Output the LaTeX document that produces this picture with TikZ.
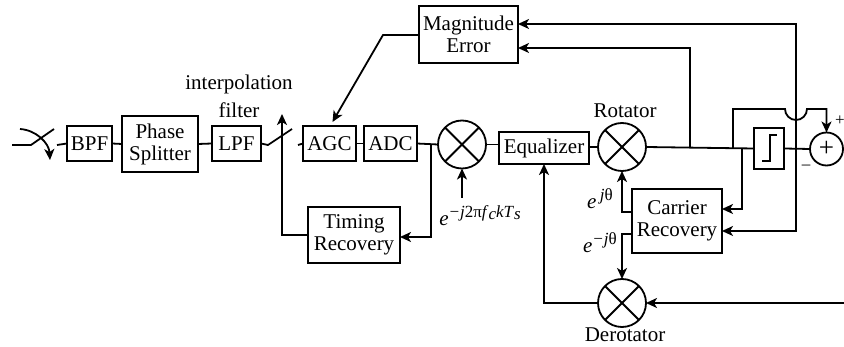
\documentclass[tikz,border=0pt]{standalone}
\usepackage{fontspec}
\setmainfont{Liberation Serif}
\usetikzlibrary{arrows.meta, calc}
\newcommand{\supt}[1]{\raisebox{8pt}{\fontsize{17}{17}\selectfont #1}}
\newcommand{\subt}[1]{\raisebox{-2pt}{\fontsize{17}{17}\selectfont #1}}

\begin{document}
\begin{tikzpicture}[
            x=1pt, y=-1pt,
            font=\fontsize{21}{22}\selectfont,
            line width=1.8pt,
            >={Stealth[length=11pt, width=10pt, inset=3pt]},
            block/.style ={draw, align=center, inner sep=0pt, outer sep=0pt},
            mult/.style  ={draw, circle, inner sep=0pt, outer sep=0pt, minimum size=48pt,
                    path picture={
                        \draw (path picture bounding box.north west) -- (path picture bounding box.south east);
                        \draw (path picture bounding box.north east) -- (path picture bounding box.south west);
                    }},
            lab/.style   ={inner sep=0pt, outer sep=0pt},
            sig/.style   ={->}
        ]
        \useasboundingbox (0,0) rectangle (844,347);

        %% --- forward path blocks ---
        \node[block, minimum width=45pt, minimum height=35pt] (bpf) at (89.5,143.5) {BPF};
        \node[block, minimum width=76pt, minimum height=56pt] (split) at (160,144) {Phase\\Splitter};
        \node[block, minimum width=49pt, minimum height=35pt] (lpf) at (236.5,143.5) {LPF};
        \node[block, minimum width=53pt, minimum height=35pt] (agc) at (329.5,143.5) {AGC};
        \node[block, minimum width=53pt, minimum height=35pt] (adc) at (390.5,143.5) {ADC};
        \node[mult] (mix) at (462,144.5) {};
        \node[block, minimum width=90pt, minimum height=32pt] (eq) at (544,148) {Equalizer};
        \node[mult] (rot) at (622,147) {};
        \node[block, minimum width=30pt, minimum height=41pt] (dec) at (769,148.5) {};
        \node[draw, circle, inner sep=0pt, outer sep=0pt, minimum size=33pt, font=\fontsize{27}{27}\selectfont] (sum) at (826.5,149) {+};

        %% --- feedback blocks ---
        \node[block, minimum width=99pt, minimum height=57pt] (mag) at (468.5,34.5) {Magnitude\\Error};
        \node[block, minimum width=92pt, minimum height=56pt] (timing) at (354,235) {Timing\\Recovery};
        \node[block, minimum width=90pt, minimum height=64pt] (carrier) at (677,221) {Carrier\\Recovery};
        \node[mult] (derot) at (622,303) {};

        %% --- labels ---
        \node[lab] (interp) at (239,84) {interpolation};
        \node[lab] (filt) at (239,110) {filter};
        \node[lab] (rotlab) at (625,111) {Rotator};
        \node[lab] (derotlab) at (625,335) {Derotator};
        \node[lab] (osc) at (480,216) {\textit{e}\supt{\textit{−j}2π\textit{f}\subt{\textit{c}}\textit{kT}\subt{\textit{s}}}};
        \node[lab] (ejp) at (600,199) {\textit{e}\,\supt{\textit{j}θ}};
        \node[lab] (ejm) at (600,243) {\textit{e}\supt{\textit{−j}θ}};
        \node[lab, font=\fontsize{17}{17}\selectfont] (plus) at (840,121) {+};
        \node[lab, font=\fontsize{17}{17}\selectfont] (minus) at (806,167) {–};

        %% --- free ends, taps and switches ---
        \coordinate (in) at (12,145);
        \coordinate (swa) at (31,145);
        \coordinate (swb) at (54,129);
        \coordinate (swc) at (20,129);
        \coordinate (swd) at (50,160);
        \coordinate (swe) at (57,145);
        \coordinate (ipa) at (268,145);
        \coordinate (ipb) at (292,129);
        \coordinate (ipc) at (282,114);
        \coordinate (ipd) at (298,145);
        \coordinate (oscin) at (462,198);
        \coordinate (tapadc) at (431,145);
        \coordinate (tapmag) at (690,147);
        \coordinate (tapcar) at (742,148);
        \coordinate (tapdec) at (733,148);
        \coordinate (taperr) at (796,149);
        \coordinate (hopl) at (785,109);
        \coordinate (hopr) at (807,109);
        \coordinate (magbend) at (383,35);
        \coordinate (dein) at (844,303);

        %% --- forward path edges ---
        \draw (in) -- (swa) -- (swb);
        \draw[sig] (swc) .. controls (36,130) and (49,143) .. (swd);
        \draw (swe) -- (bpf.west);
        \draw (bpf.east) -- (split.west);
        \draw (split.east) -- (lpf.west);
        \draw (lpf.east) -- (ipa) -- (ipb);
        \draw (ipd) -- (agc.west);
        \draw (agc.east) -- (adc.west);
        \draw (adc.east) -- (mix.west);
        \draw (mix.east) -- (eq.west |- mix.east);
        \draw (eq.east |- rot.west) -- (rot.west);
        \draw (rot.east) -- (dec.west);
        \draw (dec.east) -- (sum.west);
        \draw[sig] (oscin) -- (mix.south);

        %% --- decision symbol ---
        \draw[shift={(dec.center)}] (-7,12.5) -- (1,12.5) -- (1,-13.5) -- (8,-13.5);

        %% --- feedback edges ---
        \draw[sig] (tapadc) |- ([yshift=-2pt]timing.east);
        \draw[sig] (timing.west) -| (ipc);
        \draw[sig] (tapmag) |- ([yshift=-13.5pt]mag.east);
        \draw[sig] (taperr) |- ([yshift=10.5pt]mag.east);
        \draw[sig] (taperr) |- ([yshift=-10pt]carrier.east);
        \draw[sig] (tapcar) |- ([yshift=12pt]carrier.east);
        \draw[sig] ([yshift=9pt]carrier.west) -| (rot.south);
        \draw[sig] ([yshift=-13pt]carrier.west) -| (derot.north);
        \draw[sig] (dein) -- (derot.east);
        \draw[sig] (derot.west) -| (eq.south);
        \draw[sig] (mag.west |- magbend) -- (magbend) -- ($(agc.north)+(3,-4)$);
        \draw[sig] (tapdec) |- (hopl) arc (180:0:11) -- (hopr -| sum.north) -- (sum.north);

    \end{tikzpicture}
\end{document}
